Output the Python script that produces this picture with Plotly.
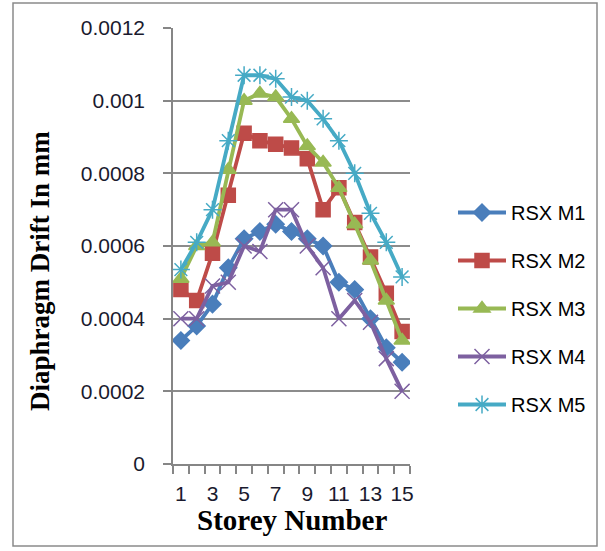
import plotly.graph_objects as go

storey = list(range(1, 16))
rsx_m1 = [0.00034, 0.00038, 0.00044, 0.00054, 0.00062, 0.00064, 0.00066, 0.00064, 0.00062, 0.0006, 0.0005, 0.00048, 0.0004, 0.00032, 0.00028]
rsx_m2 = [0.00048, 0.00045, 0.00058, 0.00074, 0.00091, 0.00089, 0.00088, 0.00087, 0.00084, 0.0007, 0.00076, 0.000665, 0.00057, 0.00047, 0.000365]
rsx_m3 = [0.00051, 0.0006, 0.00061, 0.00081, 0.001, 0.00102, 0.00101, 0.00095, 0.000875, 0.00083, 0.00076, 0.00066, 0.00056, 0.00045, 0.00034]
rsx_m4 = [0.0004, 0.0004, 0.00049, 0.0005, 0.0006, 0.000585, 0.0007, 0.0007, 0.0006, 0.00054, 0.0004, 0.00045, 0.00039, 0.00029, 0.0002]
rsx_m5 = [0.000535, 0.00061, 0.0007, 0.00089, 0.00107, 0.00107, 0.00106, 0.00101, 0.001, 0.00095, 0.00089, 0.0008, 0.00069, 0.00061, 0.000515]

names = ["RSX M1", "RSX M2", "RSX M3", "RSX M4", "RSX M5"]
colors = ["#4A7EBB", "#BE4B48", "#98B954", "#7D60A0", "#46AAC5"]
symbols = ["diamond", "square", "triangle-up", "x-thin-open", "asterisk-open"]
sizes = [13, 14, 14, 15, 15]
series = [rsx_m1, rsx_m2, rsx_m3, rsx_m4, rsx_m5]

ytick_vals = [0, 0.0002, 0.0004, 0.0006, 0.0008, 0.001, 0.0012]
ytick_text = ["0", "0.0002", "0.0004", "0.0006", "0.0008", "0.001", "0.0012"]
xtick_vals = [1, 3, 5, 7, 9, 11, 13, 15]

fig = go.Figure()
for n, c, s, sz, v in zip(names, colors, symbols, sizes, series):
    fig.add_trace(go.Scatter(
        x=storey, y=v, name=n, mode="lines+markers", legendgroup=n,
        line=dict(color=c, width=3.8),
        marker=dict(symbol=s, size=sz, color=c, line=dict(color=c, width=1.5)),
    ))

L, R, T, B = 173, 410, 28, 464
W, H = 605, 551
pw, ph = R - L, B - T

def px(x):
    return (x - L) / pw

def py(y):
    return (B - y) / ph

fig.update_layout(
    width=W, height=H,
    margin=dict(l=L, r=W - R, t=T, b=H - B),
    paper_bgcolor="white", plot_bgcolor="white",
    font=dict(family="Liberation Sans", color="black"),
    showlegend=True,
    legend=dict(
        x=px(453), y=py(193), xanchor="left", yanchor="top",
        font=dict(size=20, family="Liberation Sans", color="black"),
        tracegroupgap=19, itemwidth=48, bgcolor="rgba(0,0,0,0)",
    ),
    xaxis=dict(
        range=[0.5, 15.5], tickmode="array", tickvals=xtick_vals,
        ticks="", showgrid=False, zeroline=False,
        showline=True, linecolor="#868686", linewidth=1.5,
        tickfont=dict(size=21, family="Liberation Sans", color="#1a1a2e"),
        ticklabelstandoff=10,
        minor=dict(tick0=0.5, dtick=1, ticks="outside", ticklen=8, tickcolor="#868686", tickwidth=1.5, showgrid=False),
    ),
    yaxis=dict(
        range=[0, 0.0012], tickmode="array", tickvals=ytick_vals, ticktext=ytick_text,
        ticks="outside", ticklen=8, tickcolor="#868686", tickwidth=1.5,
        showgrid=True, gridcolor="#8c8c8c", gridwidth=1.5, zeroline=False,
        showline=True, linecolor="#868686", linewidth=1.5,
        tickfont=dict(size=21, family="Liberation Sans", color="#1a1a2e"),
        ticklabelstandoff=14,
    ),
    annotations=[
        dict(text="<b>Diaphragm Drift In mm</b>", xref="paper", yref="paper",
             x=px(40), y=py(271), xanchor="center", yanchor="middle", textangle=-90,
             showarrow=False, font=dict(family="Liberation Serif", size=27, color="black")),
        dict(text="<b>Storey Number</b>", xref="paper", yref="paper",
             x=px(292), y=py(520), xanchor="center", yanchor="middle",
             showarrow=False, font=dict(family="Liberation Serif", size=29, color="black")),
    ],
    shapes=[
        dict(type="rect", xref="paper", yref="paper",
             x0=px(13), x1=px(597), y0=py(546), y1=py(3),
             line=dict(color="#8a8a8a", width=1.5), fillcolor="rgba(0,0,0,0)", layer="below"),
    ],
)

fig.write_html("out.html")
